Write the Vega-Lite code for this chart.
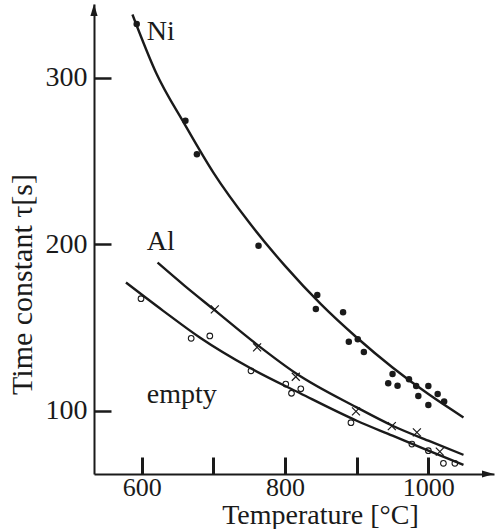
{
  "$schema": "https://vega.github.io/schema/vega-lite/v6.json",
  "width": 400,
  "height": 470,
  "autosize": "none",
  "padding": {"left": 94, "top": 4, "right": 1, "bottom": 55},
  "background": "white",
  "config": {
    "view": {"stroke": null},
    "font": "Liberation Serif",
    "axis": {"grid": false, "domainColor": "#1a1a1a", "domainWidth": 2, "tickColor": "#1a1a1a", "labelColor": "#1a1a1a", "titleColor": "#1a1a1a", "labelFont": "Liberation Serif", "titleFont": "Liberation Serif", "titleFontWeight": "normal", "labelFontSize": 28, "titleFontSize": 28}
  },
  "datasets": {
    "curves": [
      {"series": "Ni", "x": 587, "tau": 338},
      {"series": "Ni", "x": 620, "tau": 303},
      {"series": "Ni", "x": 660, "tau": 272},
      {"series": "Ni", "x": 700, "tau": 243},
      {"series": "Ni", "x": 750, "tau": 213},
      {"series": "Ni", "x": 800, "tau": 187},
      {"series": "Ni", "x": 850, "tau": 164},
      {"series": "Ni", "x": 900, "tau": 144},
      {"series": "Ni", "x": 950, "tau": 126},
      {"series": "Ni", "x": 1000, "tau": 110},
      {"series": "Ni", "x": 1049, "tau": 96},
      {"series": "Al", "x": 622, "tau": 189},
      {"series": "Al", "x": 660, "tau": 175},
      {"series": "Al", "x": 700, "tau": 161},
      {"series": "Al", "x": 760, "tau": 140},
      {"series": "Al", "x": 815, "tau": 122.5},
      {"series": "Al", "x": 900, "tau": 102},
      {"series": "Al", "x": 950, "tau": 91},
      {"series": "Al", "x": 1000, "tau": 82},
      {"series": "Al", "x": 1049, "tau": 73.5},
      {"series": "empty", "x": 578, "tau": 177},
      {"series": "empty", "x": 630, "tau": 160},
      {"series": "empty", "x": 681, "tau": 144},
      {"series": "empty", "x": 752, "tau": 125.5},
      {"series": "empty", "x": 821, "tau": 110.5},
      {"series": "empty", "x": 900, "tau": 94},
      {"series": "empty", "x": 950, "tau": 85},
      {"series": "empty", "x": 1000, "tau": 76},
      {"series": "empty", "x": 1049, "tau": 67.5}
    ],
    "points": [
      {"series": "Ni", "x": 593, "tau": 332.3},
      {"series": "Ni", "x": 661, "tau": 274.2},
      {"series": "Ni", "x": 677, "tau": 254},
      {"series": "Ni", "x": 763, "tau": 199.1},
      {"series": "Ni", "x": 845, "tau": 169.5},
      {"series": "Ni", "x": 843, "tau": 161.1},
      {"series": "Ni", "x": 881, "tau": 159.1},
      {"series": "Ni", "x": 889, "tau": 141.4},
      {"series": "Ni", "x": 901.5, "tau": 142.9},
      {"series": "Ni", "x": 910, "tau": 135.3},
      {"series": "Ni", "x": 950, "tau": 122},
      {"series": "Ni", "x": 944, "tau": 116.5},
      {"series": "Ni", "x": 957, "tau": 115},
      {"series": "Ni", "x": 973, "tau": 118.9},
      {"series": "Ni", "x": 983, "tau": 114.8},
      {"series": "Ni", "x": 1000, "tau": 114.8},
      {"series": "Ni", "x": 986, "tau": 108.8},
      {"series": "Ni", "x": 1013, "tau": 110},
      {"series": "Ni", "x": 1000, "tau": 103.4},
      {"series": "Ni", "x": 1022, "tau": 105.6},
      {"series": "Al", "x": 702, "tau": 160.9},
      {"series": "Al", "x": 761, "tau": 138.1},
      {"series": "Al", "x": 815, "tau": 120.4},
      {"series": "Al", "x": 899, "tau": 99.6},
      {"series": "Al", "x": 949, "tau": 90.8},
      {"series": "Al", "x": 984, "tau": 87},
      {"series": "Al", "x": 1016, "tau": 75.4},
      {"series": "empty", "x": 599, "tau": 167.3},
      {"series": "empty", "x": 669, "tau": 143.5},
      {"series": "empty", "x": 695, "tau": 144.9},
      {"series": "empty", "x": 752.5, "tau": 124},
      {"series": "empty", "x": 801, "tau": 116},
      {"series": "empty", "x": 822, "tau": 113.2},
      {"series": "empty", "x": 809, "tau": 110.5},
      {"series": "empty", "x": 892, "tau": 92.8},
      {"series": "empty", "x": 977, "tau": 80},
      {"series": "empty", "x": 1000, "tau": 76},
      {"series": "empty", "x": 1021, "tau": 68.4},
      {"series": "empty", "x": 1037, "tau": 68.4}
    ],
    "labels": [
      {"text": "Ni", "x": 607, "tau": 322.6},
      {"text": "Al", "x": 607, "tau": 196.5},
      {"text": "empty", "x": 607, "tau": 104.6}
    ],
    "arrows": [
      {"dir": "up", "x": 533.4, "tau": 340.7},
      {"dir": "right", "x": 1083.2, "tau": 62}
    ]
  },
  "encoding": {
    "x": {"field": "x", "type": "quantitative", "scale": {"domain": [533.4, 1091.6], "nice": false, "zero": false},
      "axis": {"title": "Temperature [°C]", "values": [600, 700, 800, 900, 1000], "format": "d", "tickSize": -17, "tickWidth": 3, "labelExpr": "datum.value % 200 == 0 ? datum.label : ''", "labelFont": "Liberation Serif", "labelFontSize": 26, "labelBaseline": "alphabetic", "labelPadding": 38, "labelFlush": false, "titleX": 226, "titleY": 49.5, "titleBaseline": "alphabetic", "titleAlign": "center"}},
    "y": {"field": "tau", "type": "quantitative", "scale": {"domain": [62, 344.3], "nice": false, "zero": false},
      "axis": {"title": "Time constant τ[s]", "values": [100, 200, 300], "format": "d", "tickSize": -17, "tickWidth": 2.5, "labelFont": "Liberation Serif", "labelFontSize": 28, "labelPadding": 24, "labelBaseline": "middle", "labelFlush": false, "titleX": -63, "titleY": 280, "titleAngle": -90, "titleBaseline": "alphabetic", "titleAlign": "center", "titleFontSize": 30}}
  },
  "layer": [
    {"data": {"name": "curves"}, "mark": {"type": "line", "interpolate": "monotone", "color": "#1a1a1a", "strokeWidth": 2.4}, "encoding": {"detail": {"field": "series"}}},
    {"data": {"name": "points"}, "transform": [{"filter": "datum.series == 'Ni'"}], "mark": {"type": "point", "shape": "circle", "filled": true, "color": "#1a1a1a", "size": 42, "opacity": 1}},
    {"data": {"name": "points"}, "transform": [{"filter": "datum.series == 'empty'"}], "mark": {"type": "point", "shape": "circle", "filled": false, "color": "#1a1a1a", "size": 32, "strokeWidth": 1.1, "opacity": 1}},
    {"data": {"name": "points"}, "transform": [{"filter": "datum.series == 'Al'"}], "mark": {"type": "point", "shape": "M-1,-1L1,1M1,-1L-1,1", "filled": false, "color": "#1a1a1a", "size": 64, "strokeWidth": 1.2, "opacity": 1}},
    {"data": {"name": "labels"}, "mark": {"type": "text", "align": "left", "baseline": "alphabetic", "fontSize": 28, "font": "Liberation Serif", "color": "#1a1a1a"}, "encoding": {"text": {"field": "text"}}},
    {"data": {"name": "arrows"}, "transform": [{"filter": "datum.dir == 'up'"}], "mark": {"type": "point", "shape": "M0,-1L0.6,1L-0.6,1Z", "filled": true, "color": "#1a1a1a", "size": 144, "opacity": 1}},
    {"data": {"name": "arrows"}, "transform": [{"filter": "datum.dir == 'right'"}], "mark": {"type": "point", "shape": "M1,0L-1,0.6L-1,-0.6Z", "filled": true, "color": "#1a1a1a", "size": 144, "opacity": 1}}
  ]
}
